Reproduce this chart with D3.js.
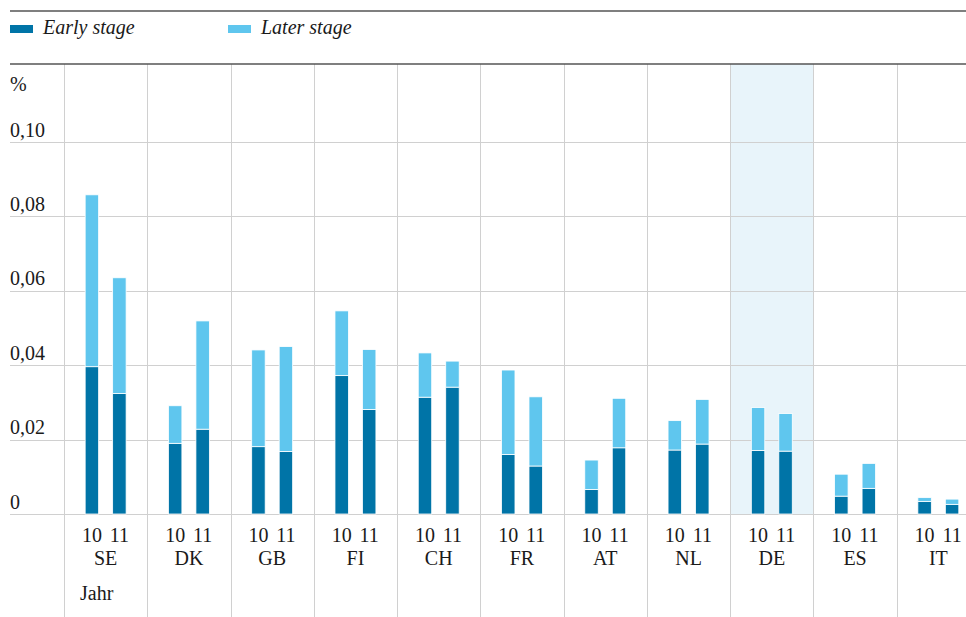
<!DOCTYPE html>
<html lang="de">
<head>
<meta charset="utf-8">
<title>Early / Later stage</title>
<script src="https://cdn.jsdelivr.net/npm/d3@7"></script>
<style>
    body { margin: 0; background: #fff; }
    svg text { fill: #1a1a1a; }
    .grid line { stroke: #d0d0d0; stroke-width: 1; }
</style>
</head>
<body>
<script>
// Data
var countries = ["SE", "DK", "GB", "FI", "CH", "FR", "AT", "NL", "DE", "ES", "IT"];
var years = ["10", "11"];
// early stage, [2010, 2011] per country
var early = [
    [0.0396, 0.0324], [0.0190, 0.0228], [0.0181, 0.0168], [0.0372, 0.0281],
    [0.0314, 0.0341], [0.0160, 0.0129], [0.0066, 0.0178], [0.0172, 0.0188],
    [0.0171, 0.0169], [0.0048, 0.0069], [0.0034, 0.0026]
];
// later stage, [2010, 2011] per country
var later = [
    [0.0462, 0.0311], [0.0101, 0.0291], [0.0260, 0.0282], [0.0174, 0.0161],
    [0.0119, 0.0070], [0.0227, 0.0186], [0.0079, 0.0133], [0.0079, 0.0120],
    [0.0115, 0.0101], [0.0059, 0.0067], [0.0010, 0.0014]
];
var yTicks = [0, 0.02, 0.04, 0.06, 0.08, 0.10];
var yTickLabels = ["0", "0,02", "0,04", "0,06", "0,08", "0,10"];
var highlight = "DE";

var width = 966, height = 617;
var colEarly = "#0074a7", colLater = "#5fc6ee";

var svg = d3.select("body").append("svg")
    .attr("width", width)
    .attr("height", height)
    .style("font-family", "'Liberation Serif', 'Times New Roman', serif");

// scales
var step = 83.27;
var x = d3.scaleBand()
    .domain(countries)
    .range([64, 64 + step * countries.length])
    .padding(0);
var xYear = d3.scaleBand()
    .domain(years)
    .range([0, step])
    .paddingInner(0.51)
    .paddingOuter(0.77);
var y = d3.scaleLinear()
    .domain([0, 0.1])
    .range([514, 142]);

// highlighted country band
svg.append("rect")
    .attr("x", x(highlight))
    .attr("y", 64)
    .attr("width", x.bandwidth())
    .attr("height", y(0) - 64)
    .attr("fill", "#e8f4fa");

// horizontal grid
svg.append("g").attr("class", "grid")
    .selectAll("line")
    .data(yTicks)
    .enter().append("line")
    .attr("x1", 10).attr("x2", width)
    .attr("y1", function(d) { return Math.round(y(d)) + 0.5; })
    .attr("y2", function(d) { return Math.round(y(d)) + 0.5; });

// vertical separators
svg.append("g").attr("class", "grid")
    .selectAll("line")
    .data(countries.concat(["end"]))
    .enter().append("line")
    .attr("x1", function(d, i) { return Math.round(x.range()[0] + i * step) + 0.5; })
    .attr("x2", function(d, i) { return Math.round(x.range()[0] + i * step) + 0.5; })
    .attr("y1", 64).attr("y2", height);

// top rules
svg.append("line").attr("x1", 10).attr("x2", width).attr("y1", 11).attr("y2", 11)
    .attr("stroke", "#555").attr("stroke-width", 1.5);
svg.append("line").attr("x1", 10).attr("x2", width).attr("y1", 64).attr("y2", 64)
    .attr("stroke", "#555").attr("stroke-width", 1.5);

// legend
var legend = [{ name: "Early stage", color: colEarly, x: 10 }, { name: "Later stage", color: colLater, x: 228 }];
var lg = svg.append("g").selectAll("g").data(legend).enter().append("g")
    .attr("transform", function(d) { return "translate(" + d.x + ",0)"; });
lg.append("rect").attr("x", 0).attr("y", 25).attr("width", 23).attr("height", 8)
    .attr("fill", function(d) { return d.color; });
lg.append("text").attr("x", 33).attr("y", 34)
    .attr("font-size", "20px").attr("font-style", "italic")
    .text(function(d) { return d.name; });

// y tick labels
svg.append("g").selectAll("text")
    .data(yTicks)
    .enter().append("text")
    .attr("x", 10)
    .attr("y", function(d) { return y(d) - 5.5; })
    .attr("font-size", "20px")
    .text(function(d, i) { return yTickLabels[i]; });
svg.append("text").attr("x", 10).attr("y", 91).attr("font-size", "20px").text("%");

// bars
var rows = [];
countries.forEach(function(c, i) {
    years.forEach(function(yr, j) {
        rows.push({ country: c, year: yr, early: early[i][j], later: later[i][j] });
    });
});
var bars = svg.append("g").selectAll("g")
    .data(rows)
    .enter().append("g")
    .attr("transform", function(d) { return "translate(" + (x(d.country) + xYear(d.year)) + ",0)"; });
bars.append("rect")
    .attr("width", xYear.bandwidth())
    .attr("y", function(d) { return y(d.early); })
    .attr("height", function(d) { return y(0) - y(d.early); })
    .attr("fill", colEarly)
    .attr("stroke", "#fff").attr("stroke-width", 0.8);
bars.append("rect")
    .attr("width", xYear.bandwidth())
    .attr("y", function(d) { return y(d.early + d.later); })
    .attr("height", function(d) { return y(d.early) - y(d.early + d.later); })
    .attr("fill", colLater)
    .attr("stroke", "#fff").attr("stroke-width", 0.8);

// year labels
bars.append("text")
    .attr("x", xYear.bandwidth() / 2)
    .attr("y", 542)
    .attr("text-anchor", "middle")
    .attr("font-size", "20px")
    .text(function(d) { return d.year; });

// country labels
svg.append("g").selectAll("text")
    .data(countries)
    .enter().append("text")
    .attr("x", function(d) { return x(d) + x.bandwidth() / 2; })
    .attr("y", 565)
    .attr("text-anchor", "middle")
    .attr("font-size", "20px")
    .text(function(d) { return d; });

svg.append("text").attr("x", 80).attr("y", 600).attr("font-size", "20px").text("Jahr");
</script>
</body>
</html>
